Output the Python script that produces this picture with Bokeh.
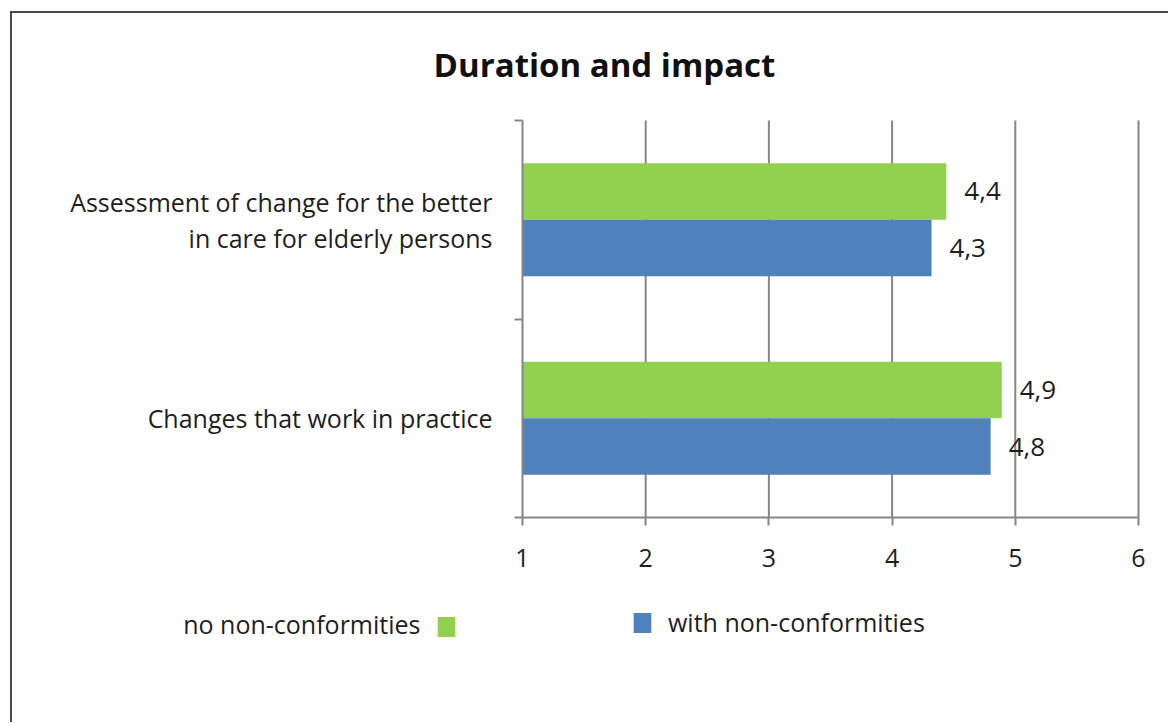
from bokeh.plotting import figure
from bokeh.models import Range1d, FixedTicker, Legend, LegendItem, Label, ColumnDataSource
from bokeh.embed import file_html
from bokeh.resources import INLINE
from bokeh.core.properties import value

# ---- data ----
title_text = "Duration and impact"
categories = ["Assessment of change for the better\nin care for elderly persons",
              "Changes that work in practice"]
series_names = ["no non-conformities", "with non-conformities"]
no_nonconf = [4.44, 4.89]
with_nonconf = [4.32, 4.80]
x_ticks = [1, 2, 3, 4, 5, 6]

GREEN = "#92D050"
BLUE = "#4F81BD"
FONT = "Open Sans"
TXT = "#1e1e1e"
GRID = "#868686"

# ---- layout (pixels inside the figure canvas) ----
W, H = 1158, 711                 # canvas
PL, PR, PT, PB = 510, 1126, 107, 504   # plot-area edges in canvas pixels
n = len(categories)
ux = (PR - PL) / (x_ticks[-1] - x_ticks[0])
uy = (PB - PT) / n
x0 = x_ticks[0] - PL / ux
x1 = x_ticks[-1] + (W - PR) / ux
y0 = -(H - PB) / uy
y1 = n + PT / uy


def dx(px):  # canvas px -> data x
    return x0 + px / ux


def dy(py):  # canvas px (from top) -> data y
    return y1 - py / uy


pos = [n - i - 0.5 for i in range(n)]
bh = 0.285
src_g = ColumnDataSource(dict(y=[p_ + bh / 2 for p_ in pos], right=no_nonconf,
                              lab=[f"{v:.1f}".replace(".", ",") for v in no_nonconf]))
src_b = ColumnDataSource(dict(y=[p_ - bh / 2 for p_ in pos], right=with_nonconf,
                              lab=[f"{v:.1f}".replace(".", ",") for v in with_nonconf]))

p = figure(width=W, height=H, min_border=0,
           x_range=Range1d(x0, x1), y_range=Range1d(y0, y1),
           output_backend="svg", toolbar_location=None, tools="")
p.margin = (11, 0, 0, 10)
p.styles = {"border-left": "2px solid #4a4a4a", "border-top": "2px solid #4a4a4a"}
p.outline_line_color = None
p.background_fill_color = "white"
p.border_fill_color = "white"
p.xgrid.visible = False
p.ygrid.visible = False

# vertical grid lines at the x ticks, spanning the plot area
p.segment(x0=x_ticks[1:], x1=x_ticks[1:], y0=[0] * (len(x_ticks) - 1), y1=[n] * (len(x_ticks) - 1),
          line_color=GRID, line_width=2)

g = p.hbar(y="y", left=x_ticks[0], right="right", height=bh, source=src_g,
           fill_color=GREEN, line_color=None)
b = p.hbar(y="y", left=x_ticks[0], right="right", height=bh, source=src_b,
           fill_color=BLUE, line_color=None)

for src in (src_g, src_b):
    p.text(x="right", y="y", text="lab", source=src, x_offset=18, text_align="left",
           text_baseline="middle", text_font=value(FONT), text_font_size="26px", text_color=TXT)

# x axis (fixed at y = 0)
xa = p.xaxis[0]
xa.fixed_location = 0
xa.bounds = (x_ticks[0], x_ticks[-1])
xa.ticker = FixedTicker(ticks=x_ticks)
xa.axis_line_color = GRID
xa.axis_line_width = 2
xa.major_tick_line_color = GRID
xa.major_tick_line_width = 2
xa.major_tick_out = 8
xa.major_tick_in = 0
xa.minor_tick_line_color = None
xa.major_label_standoff = 23
xa.major_label_text_font = FONT
xa.major_label_text_font_size = "25px"
xa.major_label_text_color = TXT

# y axis (fixed at x = 1)
ya = p.yaxis[0]
ya.fixed_location = x_ticks[0]
ya.bounds = (0, n)
ya.ticker = FixedTicker(ticks=pos, minor_ticks=list(range(n + 1)))
ya.major_label_overrides = {pos[i]: categories[i] for i in range(n)}
ya.axis_line_color = GRID
ya.axis_line_width = 2
ya.major_tick_line_color = None
ya.major_tick_out = 0
ya.major_tick_in = 0
ya.minor_tick_line_color = GRID
ya.minor_tick_line_width = 2
ya.minor_tick_out = 8
ya.minor_tick_in = 0
ya.major_label_standoff = 22
ya.major_label_text_font = FONT
ya.major_label_text_font_size = "25px"
ya.major_label_text_color = TXT
ya.major_label_text_line_height = 1.06

# title
p.add_layout(Label(x=dx(592), y=dy(51), text=title_text, text_align="center",
                   text_baseline="middle", text_font=FONT, text_font_size="33px",
                   text_font_style="bold", text_color="#111111"))

# legend: "no non-conformities" text left of its swatch, then swatch + text for the other
p.add_layout(Label(x=dx(408), y=dy(610), text=series_names[0], text_align="right",
                   text_baseline="middle", text_font=FONT, text_font_size="25px", text_color=TXT))


def mk_legend(label, r, loc):
    return Legend(items=[LegendItem(label=label, renderers=[r])], location=loc,
                  padding=0, margin=0, spacing=0, border_line_alpha=0, background_fill_alpha=0,
                  glyph_width=22, glyph_height=25, label_standoff=15, label_height=25,
                  label_text_font=FONT, label_text_font_size="25px", label_text_color=TXT)


p.add_layout(mk_legend(" ", g, (423, 85)))
p.add_layout(mk_legend(series_names[1], b, (619, 85)))

open("out.html", "w").write(file_html(p, INLINE))
